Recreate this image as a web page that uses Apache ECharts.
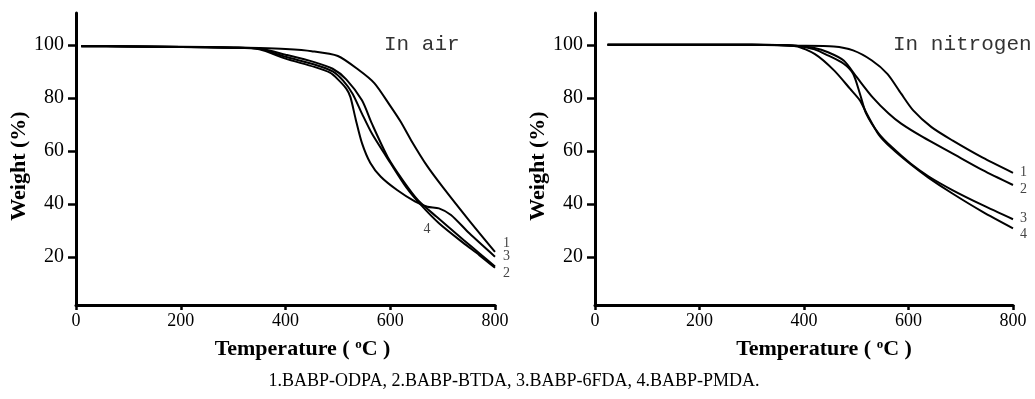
<!DOCTYPE html>
<html><head><meta charset="utf-8">
<script src="https://cdn.jsdelivr.net/npm/echarts@6/dist/echarts.min.js"></script>
<style>html,body{margin:0;padding:0;background:#fff}#c{width:1035px;height:399px}</style>
</head><body><div id="c"></div>
<script>
// ---- tick values ----
const xTicks = [0, 200, 400, 600, 800];
const yTicks = [20, 40, 60, 80, 100];

// ---- In air ----
const T1a = [10, 100, 200, 300, 350, 400, 450, 500, 540, 570, 600, 620, 640, 670, 700, 750, 800];
const W1a = [99.6, 99.5, 99.3, 99.0, 98.8, 98.4, 97.6, 95.8, 90.5, 85.5, 77, 71, 64, 54.5, 46.5, 34, 22];
const T2a = [10, 100, 200, 300, 350, 400, 455, 490, 516, 546, 565, 595, 624, 653, 688, 740, 770, 800];
const W2a = [99.5, 99.4, 99.2, 98.9, 98.6, 96.3, 93.5, 91, 87, 79.1, 70.3, 57.8, 49, 41.5, 35.3, 26.5, 21.5, 16.5];
const T3a = [10, 100, 200, 300, 350, 400, 455, 485, 500, 516, 524, 534, 546, 562, 582, 613, 647, 671, 693, 716, 751, 800];
const W3a = [99.5, 99.4, 99.2, 98.9, 98.3, 94.8, 91.7, 89.5, 87, 83.5, 80.3, 72, 63, 55.5, 50.3, 45.3, 41, 39, 38.4, 35.9, 29, 20.2];
const T4a = [10, 100, 200, 300, 350, 400, 455, 490, 510, 528, 546, 565, 601, 630, 659, 693, 740, 770, 800];
const W4a = [99.5, 99.4, 99.2, 98.9, 98.5, 95.5, 92.6, 90, 86.5, 81.6, 74.1, 66.6, 55.3, 46.5, 39.6, 32.8, 25.3, 20.8, 16];

// ---- In nitrogen ----
const T1n = [24, 200, 300, 384, 457, 494, 530, 560, 586, 609, 644, 684, 742, 800];
const W1n = [100, 100, 100, 99.7, 99.4, 97.9, 94.1, 89, 81.6, 75.3, 69, 64, 57.5, 51.8];
const T2n = [24, 200, 300, 384, 420, 446, 476, 501, 531, 562, 586, 627, 684, 742, 800];
const W2n = [100, 100, 100, 99.7, 98.8, 97.2, 94.1, 87.8, 80.3, 74.1, 70.3, 65.3, 59.1, 52.8, 47.2];
const T3n = [24, 200, 300, 384, 420, 446, 476, 494, 507, 519, 543, 568, 604, 638, 684, 742, 800];
const W3n = [100, 100, 100, 99.7, 98.3, 96, 92.9, 89.1, 81.6, 74.1, 66.6, 61.5, 55.3, 50.5, 45.3, 39.6, 34.3];
const T4n = [24, 200, 300, 384, 421, 458, 488, 507, 519, 543, 568, 604, 638, 684, 742, 800];
const W4n = [100, 100, 100, 99.5, 96.5, 90.3, 83.5, 79.1, 74.5, 66.2, 61, 55, 50, 44, 37.1, 30.9];

const seriesNames = ['1.BABP-ODPA', '2.BABP-BTDA', '3.BABP-6FDA', '4.BABP-PMDA'];
const caption = '1.BABP-ODPA, 2.BABP-BTDA, 3.BABP-6FDA, 4.BABP-PMDA.';

const zip = (t, w) => t.map((x, i) => [x, w[i]]);
const SERIF = 'Liberation Serif';

function xAxisCfg(gi, weight, shift) {
  return {
    type: 'value', gridIndex: gi, min: 0, max: 800, interval: 200,
    name: 'Temperature ( {s|o}C )', nameLocation: 'middle', nameGap: 33,
    nameTextStyle: {
      fontFamily: SERIF, fontWeight: 'bold', fontSize: 22, color: '#000',
      padding: [0, 0, 0, shift],
      rich: { s: { fontFamily: SERIF, fontWeight: 'bold', fontSize: 13, color: '#000', verticalAlign: 'top' } }
    },
    axisLine: { show: true, onZero: false, lineStyle: { color: '#000', width: 3 } },
    axisTick: { show: true, length: 5, lineStyle: { color: '#000', width: 2.5 } },
    axisLabel: { fontFamily: SERIF, fontSize: 18, fontWeight: weight, color: '#000', margin: 7 },
    splitLine: { show: false }
  };
}
function yAxisCfg(gi, weight, gap) {
  return {
    type: 'value', gridIndex: gi, min: 2, max: 112,
    name: 'Weight (%)', nameLocation: 'middle', nameGap: gap,
    nameTextStyle: { fontFamily: SERIF, fontWeight: 'bold', fontSize: 22, color: '#000', padding: [0, 14, 0, 0] },
    axisLine: { show: true, onZero: false, lineStyle: { color: '#000', width: 3 } },
    axisTick: { show: true, length: 8, customValues: yTicks, lineStyle: { color: '#000', width: 2.5 } },
    axisLabel: { customValues: yTicks, fontFamily: SERIF, fontSize: 20, fontWeight: weight, color: '#000', margin: 12 },
    splitLine: { show: false }
  };
}
function lineSeries(name, gi, t, w, endOffset, extra) {
  return Object.assign({
    name: name, type: 'line', xAxisIndex: gi, yAxisIndex: gi,
    data: zip(t, w), showSymbol: false, smooth: 0.25, silent: true,
    lineStyle: { color: '#000', width: 2 },
    endLabel: endOffset ? {
      show: true, formatter: name.split('.')[0], offset: endOffset, distance: 5,
      fontFamily: SERIF, fontSize: 14, color: '#444'
    } : { show: false }
  }, extra || {});
}

const i4 = T4a.indexOf(693);
const chart = echarts.init(document.getElementById('c'), null, { renderer: 'canvas' });
chart.setOption({
  animation: false,
  backgroundColor: '#fff',
  grid: [
    { left: 76, top: 13, width: 419, height: 292 },
    { left: 595, top: 13, width: 418, height: 292 }
  ],
  xAxis: [xAxisCfg(0, 'normal', 34), xAxisCfg(1, 'normal', 40)],
  yAxis: [yAxisCfg(0, 'normal', 42), yAxisCfg(1, 'normal', 38)],
  series: [
    lineSeries(seriesNames[0], 0, T1a, W1a, [3, -9]),
    lineSeries(seriesNames[1], 0, T2a, W2a, [3, 7]),
    lineSeries(seriesNames[2], 0, T3a, W3a, [3, 0]),
    lineSeries(seriesNames[3], 0, T4a, W4a, null, {
      markPoint: {
        symbol: 'circle', symbolSize: 1, itemStyle: { color: 'rgba(0,0,0,0)' },
        label: { show: true, formatter: '4', offset: [-12, 6], fontFamily: SERIF, fontSize: 14, color: '#444' },
        data: [{ coord: [T4a[i4], W4a[i4]] }]
      }
    }),
    lineSeries(seriesNames[0], 1, T1n, W1n, [2, 0]),
    lineSeries(seriesNames[1], 1, T2n, W2n, [2, 4]),
    lineSeries(seriesNames[2], 1, T3n, W3n, [2, -1]),
    lineSeries(seriesNames[3], 1, T4n, W4n, [2, 6])
  ],
  graphic: [
    { type: 'text', style: { text: 'In air', x: 384, y: 44, textVerticalAlign: 'middle', font: '21px "Liberation Mono"', fill: '#333' } },
    { type: 'text', style: { text: 'In nitrogen', x: 893, y: 44, textVerticalAlign: 'middle', font: '21px "Liberation Mono"', fill: '#333' } },
    { type: 'text', style: { text: caption, x: 514, y: 381, textAlign: 'center', textVerticalAlign: 'middle', font: '18px "Liberation Serif"', fill: '#000' } }
  ]
});
</script></body></html>
